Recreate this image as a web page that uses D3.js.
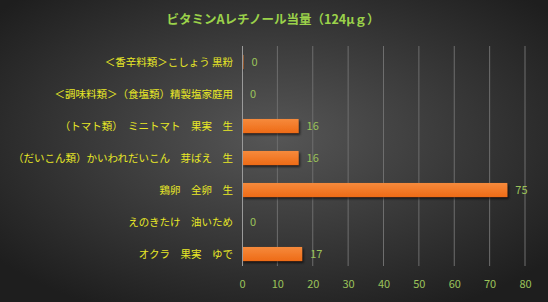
<!DOCTYPE html>
<html>
<head>
<meta charset="utf-8">
<script src="https://cdn.jsdelivr.net/npm/d3@7"></script>
<style>
  body { margin: 0; background: #222; }
  svg { display: block; font-family: "Noto Sans CJK JP", sans-serif; }
</style>
</head>
<body>
<div id="chart"></div>
<script>
const categories = [
    "＜香辛料類＞こしょう 黒粉",
    "＜調味料類＞（食塩類）精製塩家庭用",
    "（トマト類）　ミニトマト　果実　生",
    "（だいこん類）かいわれだいこん　芽ばえ　生",
    "鶏卵　全卵　生",
    "えのきたけ　油いため",
    "オクラ　果実　ゆで"
];
const values = [0.4, 0, 16, 16, 75, 0, 17];
const tickValues = [0, 10, 20, 30, 40, 50, 60, 70, 80];
const title = "ビタミンAレチノール当量（124μｇ）";

const width = 548, height = 302;
const margin = { top: 46, right: 23, bottom: 36, left: 242 };
const innerWidth = width - margin.left - margin.right;
const innerHeight = height - margin.top - margin.bottom;

const svg = d3.select("#chart")
    .append("svg")
    .attr("width", width)
    .attr("height", height);

const defs = svg.append("defs");
const bg = defs.append("radialGradient")
    .attr("id", "bg")
    .attr("cx", "50%").attr("cy", "45%").attr("r", "65%");
bg.append("stop").attr("offset", "0%").attr("stop-color", "#565656");
bg.append("stop").attr("offset", "100%").attr("stop-color", "#1e1e1e");

const barGrad = defs.append("linearGradient")
    .attr("id", "bar")
    .attr("x1", 0).attr("y1", 0).attr("x2", 0).attr("y2", 1);
barGrad.append("stop").attr("offset", "0%").attr("stop-color", "#f68a3c");
barGrad.append("stop").attr("offset", "100%").attr("stop-color", "#ee6b16");

const shadow = defs.append("filter").attr("id", "shadow")
    .attr("x", "-10%").attr("y", "-30%").attr("width", "130%").attr("height", "180%");
shadow.append("feDropShadow")
    .attr("dx", 1.5).attr("dy", 2).attr("stdDeviation", 1.2)
    .attr("flood-color", "#000").attr("flood-opacity", 0.6);

svg.append("rect")
    .attr("width", width).attr("height", height)
    .attr("fill", "url(#bg)");

const innerChart = svg.append("g")
    .attr("transform", `translate(${margin.left}, ${margin.top})`);

const xScale = d3.scaleLinear().domain([0, 80]).range([0, innerWidth * 80 / 80]);
xScale.range([0, 283]);
const yScale = d3.scaleBand()
    .domain(categories)
    .range([0, innerHeight + 4])
    .paddingInner(0.56)
    .paddingOuter(0.28);

// gridlines
innerChart.selectAll("line.grid")
    .data(tickValues.slice(1))
    .join("line")
    .attr("class", "grid")
    .attr("x1", d => xScale(d)).attr("x2", d => xScale(d))
    .attr("y1", 0).attr("y2", innerHeight)
    .attr("stroke", "#6e6e6e")
    .attr("stroke-width", 1);

// bars
innerChart.selectAll("rect.bar")
    .data(values)
    .join("rect")
    .attr("class", "bar")
    .attr("x", 0)
    .attr("y", (d, i) => yScale(categories[i]))
    .attr("width", d => xScale(d))
    .attr("height", yScale.bandwidth())
    .attr("fill", "url(#bar)")
    .attr("filter", "url(#shadow)");

// vertical axis line
innerChart.append("line")
    .attr("x1", 0.5).attr("x2", 0.5)
    .attr("y1", 0).attr("y2", innerHeight)
    .attr("stroke", "#9a9a9a");

// value labels
innerChart.selectAll("text.value")
    .data(values)
    .join("text")
    .attr("class", "value")
    .attr("x", d => xScale(d) + 8)
    .attr("y", (d, i) => yScale(categories[i]) + yScale.bandwidth() / 2)
    .attr("dy", "0.35em")
    .attr("fill", "#9bc35a")
    .attr("font-size", 11)
    .text(d => d3.format(".0f")(d));

// category labels
innerChart.selectAll("text.cat")
    .data(categories)
    .join("text")
    .attr("class", "cat")
    .attr("x", -9)
    .attr("y", d => yScale(d) + yScale.bandwidth() / 2)
    .attr("dy", "0.35em")
    .attr("text-anchor", "end")
    .attr("fill", "#e8e826")
    .attr("font-size", 10.5)
    .text(d => d);

// x-axis
const bottomAxis = d3.axisBottom(xScale)
    .tickValues(tickValues)
    .tickSize(0)
    .tickPadding(14);
const xAxis = innerChart.append("g")
    .attr("transform", `translate(0, ${innerHeight})`)
    .call(bottomAxis);
xAxis.select(".domain").remove();
xAxis.selectAll("text")
    .attr("fill", "#9bc35a")
    .attr("font-size", 11)
    .attr("font-family", "Noto Sans CJK JP, sans-serif");

// title
svg.append("text")
    .text(title)
    .attr("x", 273)
    .attr("y", 24)
    .attr("text-anchor", "middle")
    .attr("fill", "#9bd24a")
    .attr("font-size", 12.5)
    .attr("font-weight", "bold");
</script>
</body>
</html>
